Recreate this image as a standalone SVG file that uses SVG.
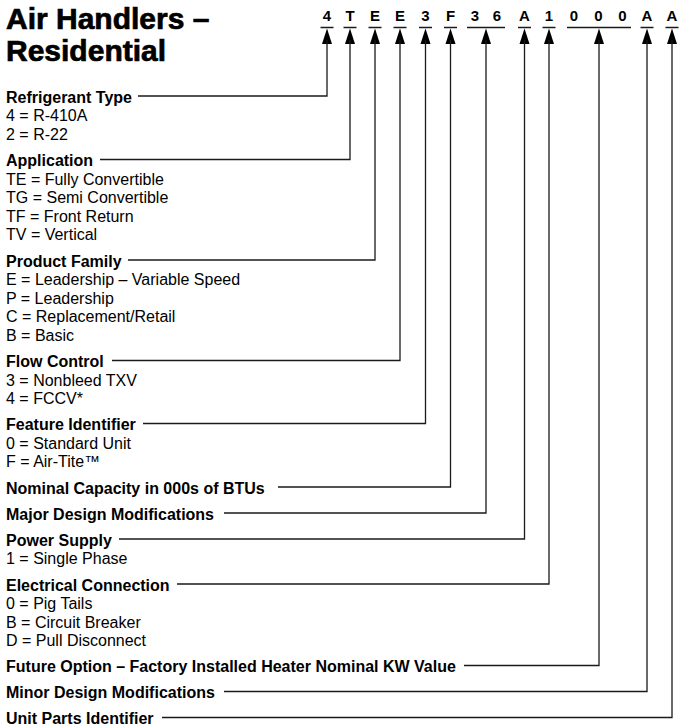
<svg xmlns="http://www.w3.org/2000/svg" width="681" height="728" viewBox="0 0 681 728">
<style>
.title{font-family:"Liberation Sans",Arial,sans-serif;font-weight:bold;font-size:30px;fill:#000;stroke:#000;stroke-width:0.7}
.code{font-family:"Liberation Sans",Arial,sans-serif;font-weight:bold;font-size:15px;fill:#000;text-anchor:middle}
.h{font-family:"Liberation Sans",Arial,sans-serif;font-weight:bold;font-size:16px;fill:#000}
.t{font-family:"Liberation Sans",Arial,sans-serif;font-size:16px;fill:#000}
.ln{fill:none;stroke:#1a1a1a;stroke-width:1.3}
.bar{stroke:#1a1a1a;stroke-width:1.5}
.ah{fill:#000}
</style>
<defs>
<path id="arr" class="ah" d="M0,28.5 L-5,44 L5,44 Z"/>
</defs>
<rect width="681" height="728" fill="#fff"/>
<g id="title">
<text class="title" x="6" y="29">Air Handlers –</text>
<text class="title" x="6" y="61">Residential</text>
</g>
<g id="code">
<text class="code" x="327" y="21">4</text>
<text class="code" x="350" y="21">T</text>
<text class="code" x="375" y="21">E</text>
<text class="code" x="400" y="21">E</text>
<text class="code" x="425.5" y="21">3</text>
<text class="code" x="450.5" y="21">F</text>
<text class="code" x="475" y="21">3</text>
<text class="code" x="497" y="21">6</text>
<text class="code" x="524.5" y="21">A</text>
<text class="code" x="549" y="21">1</text>
<text class="code" x="574" y="21">0</text>
<text class="code" x="598.5" y="21">0</text>
<text class="code" x="622.5" y="21">0</text>
<text class="code" x="647" y="21">A</text>
<text class="code" x="672" y="21">A</text>
</g>
<g id="connectors">
<line class="bar" x1="320.5" y1="27.5" x2="333.5" y2="27.5"/>
<line class="bar" x1="343.5" y1="27.5" x2="356.5" y2="27.5"/>
<line class="bar" x1="368.5" y1="27.5" x2="381.5" y2="27.5"/>
<line class="bar" x1="393.5" y1="27.5" x2="406.5" y2="27.5"/>
<line class="bar" x1="419" y1="27.5" x2="432" y2="27.5"/>
<line class="bar" x1="444" y1="27.5" x2="457" y2="27.5"/>
<line class="bar" x1="467" y1="27.5" x2="505" y2="27.5"/>
<line class="bar" x1="518" y1="27.5" x2="531" y2="27.5"/>
<line class="bar" x1="542.5" y1="27.5" x2="555.5" y2="27.5"/>
<line class="bar" x1="567" y1="27.5" x2="631" y2="27.5"/>
<line class="bar" x1="640.5" y1="27.5" x2="653.5" y2="27.5"/>
<line class="bar" x1="665.5" y1="27.5" x2="678.5" y2="27.5"/>
<use href="#arr" x="327"/>
<use href="#arr" x="350"/>
<use href="#arr" x="375"/>
<use href="#arr" x="400"/>
<use href="#arr" x="425.5"/>
<use href="#arr" x="450.5"/>
<use href="#arr" x="486"/>
<use href="#arr" x="524.5"/>
<use href="#arr" x="549"/>
<use href="#arr" x="599"/>
<use href="#arr" x="647"/>
<use href="#arr" x="672"/>
<polyline class="ln" points="138,96 327,96 327,40"/>
<polyline class="ln" points="100,159.5 350,159.5 350,40"/>
<polyline class="ln" points="128,260 375,260 375,40"/>
<polyline class="ln" points="112,360.5 400,360.5 400,40"/>
<polyline class="ln" points="143,423.5 425.5,423.5 425.5,40"/>
<polyline class="ln" points="278,487 450.5,487 450.5,40"/>
<polyline class="ln" points="224,513 486,513 486,40"/>
<polyline class="ln" points="119,539 524.5,539 524.5,40"/>
<polyline class="ln" points="177,584 549,584 549,40"/>
<polyline class="ln" points="464,665.5 599,665.5 599,40"/>
<polyline class="ln" points="224,691.5 647,691.5 647,40"/>
<polyline class="ln" points="162,717.5 672,717.5 672,40"/>
</g>
<g id="refrigerant-type">
<text class="h" x="6" y="102.5">Refrigerant Type</text>
<text class="t" x="6" y="121">4 = R-410A</text>
<text class="t" x="6" y="139.5">2 = R-22</text>
</g>
<g id="application">
<text class="h" x="6" y="166">Application</text>
<text class="t" x="6" y="184.5">TE = Fully Convertible</text>
<text class="t" x="6" y="203">TG = Semi Convertible</text>
<text class="t" x="6" y="221.5">TF = Front Return</text>
<text class="t" x="6" y="240">TV = Vertical</text>
</g>
<g id="product-family">
<text class="h" x="6" y="266.5">Product Family</text>
<text class="t" x="6" y="285">E = Leadership – Variable Speed</text>
<text class="t" x="6" y="303.5">P = Leadership</text>
<text class="t" x="6" y="322">C = Replacement/Retail</text>
<text class="t" x="6" y="340.5">B = Basic</text>
</g>
<g id="flow-control">
<text class="h" x="6" y="367">Flow Control</text>
<text class="t" x="6" y="385.5">3 = Nonbleed TXV</text>
<text class="t" x="6" y="404">4 = FCCV*</text>
</g>
<g id="feature-identifier">
<text class="h" x="6" y="430">Feature Identifier</text>
<text class="t" x="6" y="448.5">0 = Standard Unit</text>
<text class="t" x="6" y="467">F = Air-Tite™</text>
</g>
<g id="nominal-capacity">
<text class="h" x="6" y="493.5">Nominal Capacity in 000s of BTUs</text>
</g>
<g id="major-design">
<text class="h" x="6" y="519.5">Major Design Modifications</text>
</g>
<g id="power-supply">
<text class="h" x="6" y="545.5">Power Supply</text>
<text class="t" x="6" y="564">1 = Single Phase</text>
</g>
<g id="electrical-connection">
<text class="h" x="6" y="590.5">Electrical Connection</text>
<text class="t" x="6" y="609">0 = Pig Tails</text>
<text class="t" x="6" y="627.5">B = Circuit Breaker</text>
<text class="t" x="6" y="646">D = Pull Disconnect</text>
</g>
<g id="future-option">
<text class="h" x="6" y="672">Future Option – Factory Installed Heater Nominal KW Value</text>
</g>
<g id="minor-design">
<text class="h" x="6" y="698">Minor Design Modifications</text>
</g>
<g id="unit-parts">
<text class="h" x="6" y="724">Unit Parts Identifier</text>
</g>
</svg>
